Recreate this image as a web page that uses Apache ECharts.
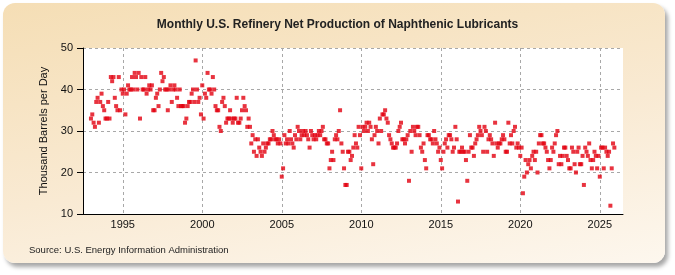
<!DOCTYPE html>
<html lang="en">
<head>
  <meta charset="utf-8">
  <title>Monthly U.S. Refinery Net Production of Naphthenic Lubricants</title>
  <script src="https://cdn.jsdelivr.net/npm/echarts@6/dist/echarts.min.js"></script>
  <style>
    html, body {
      margin: 0;
      padding: 0;
      background: #fff;
    }

    /* beige rounded panel behind the chart */
    #panel {
      position: absolute;
      left: 3px;
      top: 3px;
      width: 662px;
      height: 260px;
      border-radius: 12px;
      background: linear-gradient(170deg, #f5deb5 0%, #f9ead3 55%, #fdf7ee 100%);
      box-shadow: 3px 4px 4px rgba(0, 0, 0, 0.35);
    }

    #main {
      position: absolute;
      left: 0;
      top: 0;
      width: 675px;
      height: 275px;
    }
  </style>
</head>

<body>
  <div id="panel"></div>
  <div id="main"></div>

  <script>
    // monthly values, thousand barrels per day, starting Jan 1993
    var startYear = 1993;

    // 1993 - 1999
    var prod1990s = [
      33, 34, 32, 31, 37, 38, 32, 37, 39, 36, 35, 33,
      33, 37, 33, 43, 42, 43, 38, 36, 35, 43, 35, 40,
      39, 40, 34, 39, 41, 40, 40, 43, 40, 44, 43, 40,
      44, 33, 43, 40, 40, 43, 39, 40, 41, 40, 41, 35,
      35, 38, 39, 36, 40, 44, 42, 43, 40, 40, 35, 40,
      41, 37, 40, 41, 40, 38, 36, 40, 36, 36, 36, 32,
      33, 36, 37, 37, 39, 40, 37, 47, 40, 37, 38, 34
    ];

    // 2000 - 2009
    var prod2000s = [
      41, 33, 39, 38, 44, 40, 40, 39, 43, 40, 36, 35,
      35, 31, 30, 37, 38, 36, 32, 33, 33, 35, 33, 32,
      33, 33, 38, 32, 32, 33, 35, 38, 36, 35, 31, 33,
      31, 27, 29, 25, 28, 24, 28, 26, 25, 24, 27, 25,
      26, 27, 27, 28, 28, 30, 29, 28, 28, 27, 28, 27,
      19, 21, 29, 27, 28, 27, 30, 28, 27, 26, 29, 28,
      31, 30, 28, 29, 30, 29, 30, 29, 28, 26, 30, 29,
      28, 29, 28, 29, 30, 29, 30, 31, 28, 28, 27, 27,
      21, 23, 25, 23, 28, 29, 28, 30, 35, 27, 25, 21,
      17, 17, 25, 25, 23, 24, 26, 29, 27, 26, 31, 29
    ];

    // 2010 - 2019
    var prod2010s = [
      21, 31, 30, 31, 32, 30, 32, 31, 28, 22, 29, 31,
      30, 27, 33, 30, 34, 34, 35, 33, 32, 29, 28, 27,
      26, 26, 26, 27, 30, 31, 32, 28, 28, 27, 28, 29,
      18, 30, 25, 31, 30, 29, 31, 31, 29, 26, 25, 27,
      23, 21, 29, 29, 28, 28, 27, 30, 28, 27, 25, 26,
      23, 21, 25, 27, 28, 26, 29, 29, 28, 25, 26, 31,
      28, 13, 25, 25, 26, 25, 25, 23, 18, 25, 29, 26,
      26, 24, 27, 28, 29, 31, 30, 29, 25, 31, 30, 25,
      28, 29, 28, 27, 24, 32, 27, 26, 27, 27, 28, 29,
      28, 25, 25, 32, 27, 29, 27, 30, 31, 26, 27, 26
    ];

    // 2020 - 2025
    var prod2020s = [
      24, 26, 15, 19, 23, 20, 22, 23, 21, 24, 25, 23,
      25, 20, 27, 29, 29, 27, 27, 26, 25, 23, 21, 23,
      26, 25, 27, 29, 30, 22, 24, 22, 24, 26, 26, 24,
      23, 21, 21, 26, 25, 22, 20, 25, 26, 22, 22, 24,
      17, 26, 25, 24, 27, 23, 21, 23, 25, 24, 21, 24,
      19, 26, 26, 21, 26, 25, 24, 25, 12, 21, 27, 26
    ];

    var yearTicks = [1995, 2000, 2005, 2010, 2015, 2020, 2025];

    var monthly = prod1990s.concat(prod2000s, prod2010s, prod2020s);
    // x = decimal year (Jan = year + 0)
    var points = monthly.map(function(v, i) {
      return [startYear + i / 12, v];
    });

    var myChart = echarts.init(document.getElementById('main'));

    var option = {
      animation: false,
      textStyle: {
        fontFamily: 'Liberation Sans, Arial, sans-serif'
      },
      title: {
        text: 'Monthly U.S. Refinery Net Production of Naphthenic Lubricants',
        left: 'center',
        top: 14,
        textStyle: {
          fontSize: 12,
          fontWeight: 'bold',
          color: '#222'
        }
      },
      grid: {
        left: 83,
        right: 52,
        top: 48,
        bottom: 61,
        show: true,
        backgroundColor: '#fff',
        borderWidth: 0
      },
      xAxis: {
        type: 'value',
        min: 1992.5,
        max: 2026.46,
        axisLine: {
          lineStyle: { color: '#000', width: 1 }
        },
        axisTick: {
          show: false,
          customValues: yearTicks
        },
        axisLabel: {
          customValues: yearTicks,
          fontSize: 11,
          color: '#111',
          margin: 5,
          formatter: function(value) {
            return String(value);
          }
        },
        splitLine: {
          show: true,
          lineStyle: { type: [3, 3], color: '#a8a8a8' }
        }
      },
      yAxis: {
        type: 'value',
        min: 10,
        max: 50,
        interval: 10,
        name: 'Thousand Barrels per Day',
        nameLocation: 'middle',
        nameGap: 33,
        nameTextStyle: {
          fontSize: 11,
          color: '#111'
        },
        axisLine: {
          show: true,
          lineStyle: { color: '#000', width: 1 }
        },
        axisTick: {
          show: true,
          length: 6,
          lineStyle: { color: '#000' }
        },
        axisLabel: {
          fontSize: 11,
          color: '#111',
          margin: 10
        },
        splitLine: {
          lineStyle: { type: [3, 3], color: '#a8a8a8' }
        }
      },
      graphic: [{
        type: 'text',
        left: 29,
        top: 245,
        style: {
          text: 'Source: U.S. Energy Information Administration',
          fontSize: 9.5,
          fill: '#222',
          fontFamily: 'Liberation Sans, Arial, sans-serif'
        }
      }],
      series: [{
        name: 'Naphthenic Lubricants',
        type: 'scatter',
        symbol: 'rect',
        symbolSize: 4,
        itemStyle: { color: '#e2000f' },
        data: points
      }]
    };

    myChart.setOption(option);
  </script>
</body>

</html>
